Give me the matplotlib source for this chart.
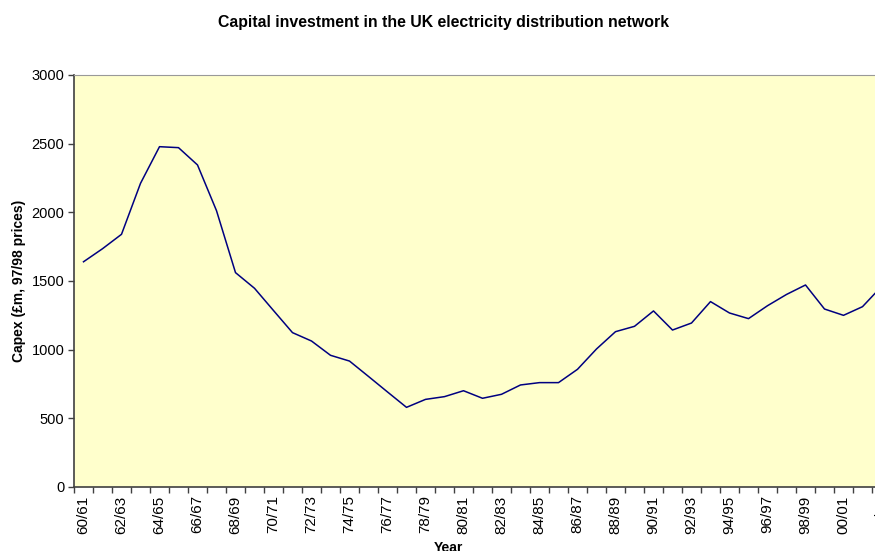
import matplotlib.pyplot as plt
import numpy as np

plt.rcParams['font.family'] = ['Liberation Sans', 'DejaVu Sans']

years = ['60/61', '61/62', '62/63', '63/64', '64/65', '65/66', '66/67', '67/68',
         '68/69', '69/70', '70/71', '71/72', '72/73', '73/74', '74/75', '75/76',
         '76/77', '77/78', '78/79', '79/80', '80/81', '81/82', '82/83', '83/84',
         '84/85', '85/86', '86/87', '87/88', '88/89', '89/90', '90/91', '91/92',
         '92/93', '93/94', '94/95', '95/96', '96/97', '97/98', '98/99', '99/00',
         '00/01', '01/02', '02/03']
capex = [1640, 1735, 1840, 2211, 2478, 2471, 2345, 2012,
         1561, 1447, 1285, 1124, 1063, 959, 917, 805,
         692, 580, 638, 658, 701, 646, 675, 743,
         760, 760, 857, 1005, 1131, 1170, 1282, 1143,
         1194, 1350, 1267, 1226, 1320, 1402, 1471, 1296,
         1250, 1313, 1460]

fig = plt.figure(figsize=(8.75, 5.51), dpi=100)
n = len(years)
# plot area runs past the right edge of the picture (cropped original)
ax = fig.add_axes([74 / 875, 1 - 487 / 551, n * 19 / 875, 412 / 551])
ax.set_facecolor('#FFFFCC')

x = np.arange(n)
ax.plot(x, capex, color='#000080', lw=1.1)

ax.set_xlim(-0.5, n - 0.5)
ax.set_ylim(0, 3000)
ax.set_yticks(np.arange(0, 3001, 500))
ax.tick_params(axis='y', labelsize=10.5, length=4, width=1, color='#404040', pad=3)

# tick marks between categories, labels every other category
ax.set_xticks(np.arange(-0.5, n, 1))
ax.set_xticklabels([])
ax.tick_params(axis='x', which='major', length=4, width=1, color='#404040')
ax.set_xticks(x[::2], minor=True)
ax.set_xticklabels(years[::2], minor=True, rotation=90, fontsize=11)
ax.tick_params(axis='x', which='minor', length=0, pad=6)

for s in ['left', 'bottom']:
    ax.spines[s].set_color('#404040')
    ax.spines[s].set_linewidth(1.2)
for s in ['top', 'right']:
    ax.spines[s].set_color('#999999')
    ax.spines[s].set_linewidth(0.8)

ax.set_ylabel('Capex (£m, 97/98 prices)', fontsize=10, fontweight='bold')
ax.yaxis.set_label_coords(-0.059, 0.5)
fig.text(448 / 875, 1 - 548 / 551, 'Year', fontsize=10, fontweight='bold', ha='center', va='center')
fig.text(443 / 875, 1 - 22 / 551, 'Capital investment in the UK electricity distribution network',
         fontsize=11.4, fontweight='bold', ha='center', va='center')

fig.savefig('out.png', dpi=100)
